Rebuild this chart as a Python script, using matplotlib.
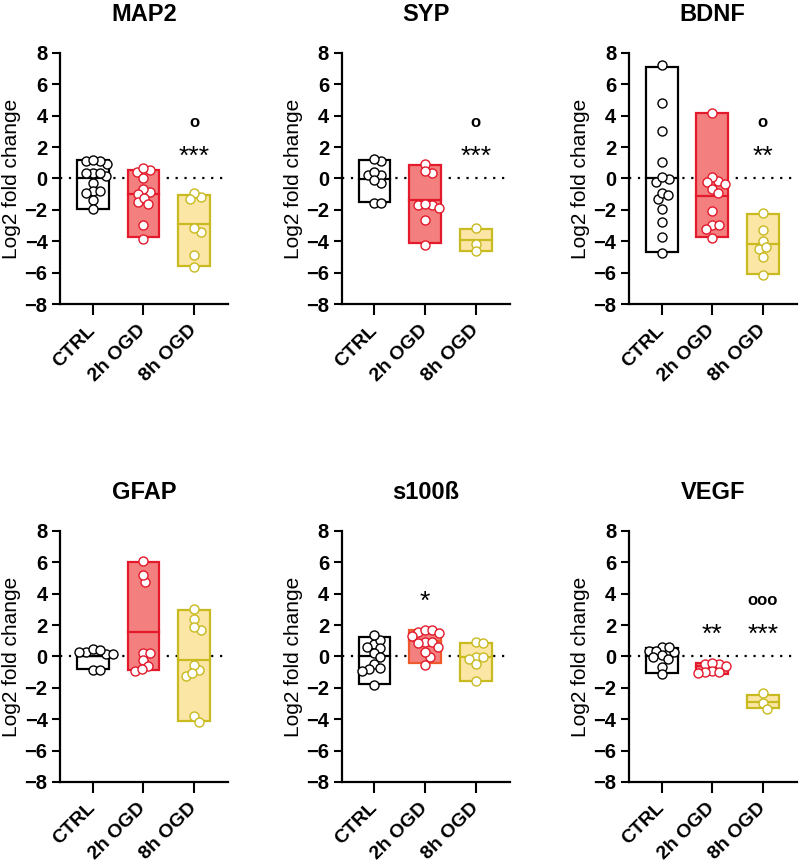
import numpy as np
import matplotlib.pyplot as plt
from matplotlib.transforms import ScaledTranslation

plt.rcParams['font.family'] = ['Liberation Sans', 'DejaVu Sans']
plt.rcParams['font.weight'] = 'bold'

genes = ["MAP2", "SYP", "BDNF", "GFAP", "s100ß", "VEGF"]
groups = ["CTRL", "2h OGD", "8h OGD"]

# individual samples (log2 fold change)
map2_ctrl = [0.95, 1.1, 1.1, 1.2, 0.38, 0.17, 0.34, 0.38, -0.28, -0.8, -0.8, -0.9, -1.38, -1.97]
map2_2h = [0.4, 0.53, 0.64, 0.0, -0.85, -0.68, -0.98, -1.53, -1.25, -1.6, -2.97, -3.84]
map2_8h = [-1.15, -0.95, -1.3, -3.4, -3.18, -4.88, -5.62]

syp_ctrl = [1.12, 1.27, 0.21, 0.21, 0.42, -0.32, -0.11, -1.55, -1.55]
syp_2h = [0.95, 0.38, 0.45, -1.7, -1.9, -1.7, -1.6, -2.65, -4.24]
syp_8h = [-3.18, -4.18, -4.65]

bdnf_ctrl = [7.2, 4.83, 3.03, 1.04, -0.05, -0.2, 0.1, -1.3, -0.9, -1.08, -1.95, -2.8, -3.75, -4.75]
bdnf_2h = [4.2, -0.17, 0.1, -0.34, -0.2, -0.7, -0.95, -2.06, -2.97, -3.2, -2.99, -3.82]
bdnf_8h = [-2.19, -3.29, -3.97, -4.52, -4.37, -5.03, -6.15]

gfap_ctrl = [0.3, 0.5, 0.15, 0.38, 0.15, 0.25, -0.85, -0.85]
gfap_2h = [6.07, 4.76, 5.2, 0.24, 0.24, -0.26, -0.6, -0.92, -0.81]
gfap_8h = [3.02, 2.38, 1.68, 1.88, -0.88, -1.28, -0.56, -1.03, -3.82, -4.16]

s100b_ctrl = [0.77, 1.05, 1.35, 0.63, 0.54, 0.24, -0.07, -0.5, -0.82, -0.9, -0.77, -1.81]
s100b_2h = [1.58, 1.69, 1.69, 1.47, 0.94, 1.33, 0.94, 0.63, 0.84, -0.01, 0.31, -0.54]
s100b_8h = [0.9, 0.84, -0.01, -0.14, -0.07, -0.48, -1.56]

vegf_ctrl = [0.6, 0.37, 0.25, 0.37, 0.57, 0.1, -0.16, -0.05, -0.65, -1.1]
vegf_2h = [-0.49, -0.49, -0.45, -0.62, -0.92, -1.0, -1.04, -0.98]
vegf_8h = [-2.36, -3.0, -3.35]

# floating bars: low, high and centre line for CTRL / 2h / 8h
bar_low = [[-1.95, -3.76, -5.56], [-1.47, -4.14, -4.6], [-4.67, -3.76, -6.09],
           [-0.8, -0.86, -4.1], [-1.75, -0.43, -1.54], [-1.04, -1.1, -3.3]]
bar_high = [[1.2, 0.57, -1.06], [1.15, 0.87, -3.25], [7.1, 4.14, -2.27],
            [0.0, 5.99, 2.96], [1.26, 1.67, 0.84], [0.53, -0.45, -2.45]]
bar_mean = [[0.0, -1.0, -2.9], [-0.05, -1.34, -3.93], [0.0, -1.12, -4.2],
            [0.0, 1.58, -0.22], [0.0, 0.97, -0.03], [0.0, -0.6, -2.9]]

stars = [["", "", "***"], ["", "", "***"], ["", "", "**"],
         ["", "", ""], ["", "*", ""], ["", "**", "***"]]
rings = [["", "", "o"], ["", "", "o"], ["", "", "o"],
         ["", "", ""], ["", "", ""], ["", "", "ooo"]]

points = [[map2_ctrl, map2_2h, map2_8h], [syp_ctrl, syp_2h, syp_8h],
          [bdnf_ctrl, bdnf_2h, bdnf_8h], [gfap_ctrl, gfap_2h, gfap_8h],
          [s100b_ctrl, s100b_2h, s100b_8h], [vegf_ctrl, vegf_2h, vegf_8h]]

edge_cols = ["black", "#E31A2C", "#C8BA1F"]
fill_cols = ["white", "#F47F7F", "#FBE6A6"]

W, H = 800, 863
fig = plt.figure(figsize=(W / 100, H / 100), dpi=100)
lefts = [0.075, 0.427, 0.786]
bottoms = [0.6477, 0.0939]
aw, ah = 0.21, 0.291
xlim = (-0.65, 2.67)
ylim = (-8, 8)
px_x = aw * W / (xlim[1] - xlim[0])
px_y = ah * H / (ylim[1] - ylim[0])
gap = 7.0  # min distance between point centres, px


def swarm(vals):
    vals = np.asarray(vals, float)
    offs = np.zeros(len(vals))
    placed = []
    cands = [0.0]
    for s in np.arange(0.5, 40, 0.5):
        cands += [s, -s]
    for i in np.argsort(-vals):
        y = vals[i] * px_y
        for c in cands:
            if all((c - px) ** 2 + (y - py) ** 2 >= gap ** 2 for px, py in placed):
                break
        placed.append((c, y))
        offs[i] = c / px_x
    return offs


shift = ScaledTranslation(9 / 100, -9 / 100, fig.dpi_scale_trans)

for k, gene in enumerate(genes):
    ax = fig.add_axes([lefts[k % 3], bottoms[k // 3], aw, ah])
    ax.axhline(0, color="black", ls=(0, (1, 3)), lw=1.6, zorder=1)
    for g in range(3):
        ec = edge_cols[g]
        if gene == "s100ß" and g == 1:
            ec = "#EE5A2C"
        lo, hi = bar_low[k][g], bar_high[k][g]
        ax.bar(g, hi - lo, bottom=lo, width=0.63, color=fill_cols[g],
               edgecolor=ec, lw=1.6, zorder=2)
        ax.plot([g - 0.315, g + 0.315], [bar_mean[k][g]] * 2, color=ec, lw=1.6, zorder=3)
        vals = points[k][g]
        ax.plot(g + swarm(vals), vals, "o", ms=6.5, mfc="white", mec=edge_cols[g],
                mew=1.0, ls="none", zorder=4, clip_on=False)
        if stars[k][g]:
            ys = 3.45 if gene == "s100ß" else 1.35
            ax.text(g, ys, stars[k][g], ha="center", va="center", fontsize=19,
                    fontweight="normal")
        if rings[k][g]:
            ax.text(g, 3.55, rings[k][g], ha="center", va="center", fontsize=12)
    ax.set_xlim(*xlim)
    ax.set_ylim(*ylim)
    ax.set_yticks(range(-8, 9, 2))
    ax.set_xticks(range(3))
    ax.set_xticklabels(groups, rotation=45, ha="right", va="center",
                       rotation_mode="anchor", fontsize=14)
    for lab in ax.get_xticklabels():
        lab.set_transform(lab.get_transform() + shift)
    ax.tick_params(direction="out", length=6, width=1.5)
    ax.tick_params(axis="y", labelsize=14.5, pad=3)
    ax.tick_params(axis="x", length=8, pad=9)
    for s in ["top", "right"]:
        ax.spines[s].set_visible(False)
    for s in ["left", "bottom"]:
        ax.spines[s].set_linewidth(1.6)
    ax.set_title(gene, fontsize=17, fontweight="bold", pad=23)
    ax.set_ylabel("Log2 fold change", fontsize=15)
    ax.yaxis.set_label_coords(-0.232, 0.5)

fig.savefig("out.png", dpi=100)
